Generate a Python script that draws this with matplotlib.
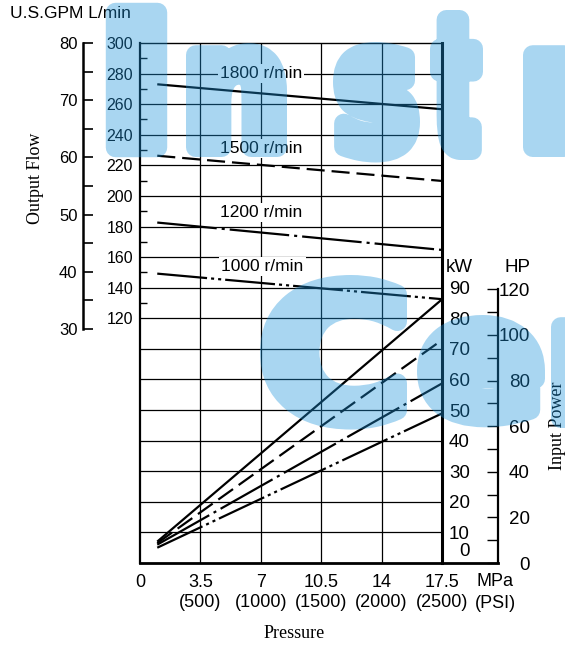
import numpy as np
import matplotlib
matplotlib.use("Agg")
import matplotlib.pyplot as plt
import matplotlib.patheffects as pe
from matplotlib.transforms import Affine2D

plt.rcParams['font.family'] = ['Liberation Sans', 'DejaVu Sans']
plt.rcParams['lines.scale_dashes'] = False

# ---------------- data ----------------
pressure_mpa = [1.0, 17.5]          # MPa, start / end of every curve
flow_1800 = [273.0, 256.7]          # L/min
flow_1500 = [226.3, 209.8]
flow_1200 = [182.6, 164.7]
flow_1000 = [149.2, 132.5]
power_1800 = [7.0, 86.2]            # kW
power_1500 = [6.5, 72.9]
power_1200 = [6.0, 58.7]
power_1000 = [5.0, 48.9]
speed_labels = ['1800 r/min', '1500 r/min', '1200 r/min', '1000 r/min']
label_mpa = [7.0, 7.0, 7.0, 7.1]
label_lpm = [280, 231, 189, 154]

mpa_ticks = [0, 3.5, 7, 10.5, 14, 17.5]
mpa_labels = ['0', '3.5', '7', '10.5', '14', '17.5']
psi_labels = ['', '(500)', '(1000)', '(1500)', '(2000)', '(2500)']
lpm_ticks = [120, 140, 160, 180, 200, 220, 240, 260, 280, 300]
lpm_minor = [130, 150, 170, 190, 210, 230, 250, 270, 290]
gpm_ticks = [30, 40, 50, 60, 70, 80]
gpm_minor = [35, 45, 55, 65, 75]
kw_ticks = [10, 20, 30, 40, 50, 60, 70, 80, 90]
hp_ticks = [0, 20, 40, 60, 80, 100, 120]
hp_minor = [10, 30, 50, 70, 90, 110]
KW_PER_HP = 0.7457

# ---------------- layout helpers ----------------
W, H = 565, 645
def fx(px): return px / W
def fy(py): return 1 - py / H

fig = plt.figure(figsize=(W / 100, H / 100), dpi=100)

L, R, T, B = 140, 442, 43, 563
ax = fig.add_axes([fx(L), fy(B), (R - L) / W, (B - T) / H])
ax.set_xlim(0, 17.5)
ax.set_ylim(-40, 300)

# grid
ax.vlines(mpa_ticks[1:-1], -40, 300, color='black', lw=0.9, zorder=1)
ax.hlines(np.arange(-20, 300, 20), 0, 17.5, color='black', lw=0.9, zorder=1)

for side, lw in (('left', 1.6), ('right', 2.2), ('bottom', 2.0), ('top', 1.0)):
    ax.spines[side].set_linewidth(lw)

# left L/min axis
ax.set_yticks(lpm_ticks)
ax.set_yticklabels([str(v) for v in lpm_ticks])
ax.set_yticks(lpm_minor, minor=True)
ax.tick_params(axis='y', which='major', length=0, pad=5, labelsize=11.5)
ax.tick_params(axis='y', which='minor', direction='in', length=5, width=1.0)

# bottom pressure axis
ax.set_xticks(mpa_ticks)
ax.set_xticklabels([m + ('\n' + p if p else '') for m, p in zip(mpa_labels, psi_labels)])
ax.tick_params(axis='x', length=0, pad=8, labelsize=13)
for t in ax.get_xticklabels():
    t.set_linespacing(1.25)

styles = ['solid', (0, (13, 5)), (0, (43, 3.6, 2.2, 3.6)),
          (0, (36, 2.9, 2.2, 2.9, 2.2, 2.9))]
flows = [flow_1800, flow_1500, flow_1200, flow_1000]
powers = [power_1800, power_1500, power_1200, power_1000]

for f, st in zip(flows, styles):
    ax.plot(pressure_mpa, f, color='black', lw=1.6, linestyle=st,
            solid_capstyle='butt', dash_capstyle='butt', zorder=3)

for lab, x, y in zip(speed_labels, label_mpa, label_lpm):
    ax.text(x, y, lab, ha='center', va='center', fontsize=12.5, zorder=4,
            bbox=dict(facecolor='white', edgecolor='none', pad=1.5))

# kW axis (right edge of grid)
axk = ax.twinx()
axk.set_ylim(0, 170)
for s in axk.spines.values():
    s.set_visible(False)
for p, st in zip(powers, styles):
    axk.plot(pressure_mpa, p, color='black', lw=1.6, linestyle=st,
             solid_capstyle='butt', dash_capstyle='butt', zorder=3)
axk.set_yticks(kw_ticks)
axk.set_yticklabels([str(v) for v in kw_ticks])
axk.tick_params(axis='y', length=0, pad=20, labelsize=13.5)
for t in axk.get_yticklabels():
    t.set_ha('right')
fig.text(fx(470), fy(552), '0', ha='right', va='center', fontsize=13.5)

# HP axis
axh = fig.add_axes([fx(R), fy(B), (498 - R) / W, (B - T) / H])
axh.set_ylim(0, 170 / KW_PER_HP)
axh.set_xlim(0, 1)
axh.patch.set_visible(False)
for s in ('left', 'top'):
    axh.spines[s].set_visible(False)
axh.spines['right'].set_bounds(0, 120)
axh.spines['right'].set_linewidth(1.6)
axh.spines['bottom'].set_linewidth(2.0)
axh.set_xticks([])
axh.yaxis.tick_right()
axh.set_yticks(hp_ticks)
axh.set_yticklabels([str(v) for v in hp_ticks])
axh.set_yticks(hp_minor, minor=True)
axh.tick_params(axis='y', which='both', direction='in', length=8, width=1.0,
                pad=23, labelsize=13.5)
for t in axh.get_yticklabels():
    t.set_ha('right')

# U.S.GPM axis
axg = fig.add_axes([fx(83), fy(329), 10 / W, (329 - 43) / H])
axg.set_ylim(30, 80)
axg.patch.set_visible(False)
for s in ('right', 'top', 'bottom'):
    axg.spines[s].set_visible(False)
axg.spines['left'].set_linewidth(1.8)
axg.set_xticks([])
axg.set_yticks(gpm_ticks)
axg.set_yticklabels([str(v) for v in gpm_ticks])
axg.set_yticks(gpm_minor, minor=True)
axg.tick_params(axis='y', which='both', direction='in', length=7, width=1.2,
                pad=4, labelsize=12)

# texts
fig.text(fx(10), fy(13), 'U.S.GPM L/min', ha='left', va='center', fontsize=12.5)
fig.text(fx(35), fy(178), 'Output Flow', rotation=90, ha='center', va='center',
         family='Liberation Serif', fontsize=13)
fig.text(fx(558), fy(426), 'Input Power', rotation=90, ha='center', va='center',
         family='Liberation Serif', fontsize=13)
fig.text(fx(294), fy(633), 'Pressure', ha='center', va='center',
         family='Liberation Serif', fontsize=13)
fig.text(fx(473), fy(268), 'kW', ha='right', va='center', fontsize=13.5)
fig.text(fx(531), fy(268), 'HP', ha='right', va='center', fontsize=13.5)
fig.text(fx(495), fy(582), 'MPa', ha='center', va='center', fontsize=13)
fig.text(fx(495), fy(603), '(PSI)', ha='center', va='center', fontsize=13)

# ---------------- watermark overlay (semi-transparent) ----------------
STROKE_PT = 14
STROKE_PX = STROKE_PT * 100 / 72


class FitGlyph(pe.AbstractPathEffect):
    """Draw a glyph fitted into a given pixel box (x0, x1, top, bottom)."""
    def __init__(self, box, **gc_kw):
        super().__init__()
        self.box = box
        self.kw = gc_kw

    def draw_path(self, renderer, gc, tpath, affine, rgbFace=None):
        x0, x1, top, bot = self.box
        s = STROKE_PX
        ext = tpath.get_extents(affine)
        oy = affine.transform((0, 0))[1]
        hd = renderer.height
        sx = (x1 - x0 - s) / ext.width
        sy = ((bot - top) - s) / (ext.y1 - oy)
        tr = affine + Affine2D().translate(-ext.x0, -oy).scale(sx, sy).translate(
            x0 + s / 2, hd - bot + s / 2)
        gc0 = renderer.new_gc()
        gc0.copy_properties(gc)
        gc0 = self._update_gc(gc0, self.kw)
        renderer.draw_path(gc0, tpath, tr, rgbFace)
        gc0.restore()


def wm_alpha(im, dpi):
    out = im.copy()
    out[..., 3] = out[..., 3] * 0.38
    return out, 0, 0


wm_color = '#1b93dc'
wm_letters = [('I', (105, 167, 2, 157)), ('n', (186, 287, 43, 157)),
              ('s', (333, 420, 42, 160)), ('t', (430, 483, 10, 160)),
              ('r', (523, 615, 43, 157)), ('C', (260, 407, 275, 427)),
              ('e', (417, 545, 315, 425)), ('n', (551, 652, 315, 428))]
for ch, box in wm_letters:
    x0, x1, top, bot = box
    t = fig.text(fx(x0), fy(bot), ch, ha='left', va='bottom', fontsize=110,
                 family='DejaVu Sans', fontweight='bold', color=wm_color, zorder=100,
                 path_effects=[FitGlyph(box, linewidth=STROKE_PT, foreground=wm_color,
                                        joinstyle='round', capstyle='round'),
                               FitGlyph(box)])
    t.set_agg_filter(wm_alpha)

fig.savefig('out.png', dpi=100)
